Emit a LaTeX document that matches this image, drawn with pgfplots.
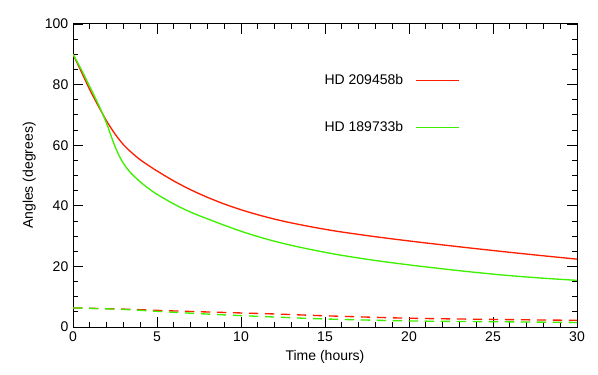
\documentclass[border=0pt]{standalone}
\usepackage{fontspec}
\setmainfont{Liberation Sans}
\usepackage{pgfplots}
\pgfplotsset{compat=1.18}
\definecolor{hdRed}{RGB}{255,30,0}
\definecolor{hdGreen}{RGB}{60,240,0}

\begin{document}
\begin{tikzpicture}
\begin{axis}[
  name=ax,
  scale only axis,
  width=378pt, height=227.25pt,
  xmin=0, xmax=30, ymin=0, ymax=100,
  xtick={0,5,...,30}, ytick={0,20,...,100},
  minor x tick num=4, minor y tick num=3,
  tick align=inside,
  major tick length=7.5pt, minor tick length=3.75pt,
  tick style={black, line width=0.6pt},
  axis line style={line width=0.75pt},
  font=\fontsize{10.5}{12}\selectfont,
  /pgf/number format/assume math mode=true,
  xlabel={Time (hours)}, ylabel={Angles (degrees)},
  legend plot pos=right,
  legend cell align=left,
  legend style={draw=none, fill=none, at={(axis cs:14.8,84.3)}, anchor=north west,
    row sep=22pt, inner sep=0pt},
  legend image code/.code={\path (0pt,0pt);\draw[#1, line width=1.1pt] (6.75pt,0pt) -- (39pt,0pt);},
]
% solid curves
\addplot[hdRed, line width=1pt, smooth] coordinates {
  (0,90)(0.5,84.2)(1,78.3)(1.5,73)(2,68.0)(2.5,63.7)(3,60.2)(3.5,57.5)(4,55.2)
  (4.5,53.3)(5,51.5)(6,48.2)(7,45.3)(8,42.8)(9,40.6)(10,38.7)(11,37.05)(12,35.6)
  (13,34.35)(14,33.25)(15,32.25)(16,31.35)(18,29.8)(20,28.4)(22,27.1)(24,25.85)
  (26,24.65)(28,23.5)(30,22.4)};
\addlegendentry{HD 209458b}
\addplot[hdGreen, line width=1pt, smooth] coordinates {
  (0,90)(0.5,84.9)(1,79.3)(1.5,73.6)(2,67.2)(2.25,63.3)(2.5,59.6)(2.75,56.5)(3,54.0)
  (3.25,52.1)(3.5,50.5)(4,47.9)(4.5,45.7)(5,43.8)(6,40.6)(7,37.9)(8,35.7)(9,33.6)
  (10,31.6)(11,29.85)(12,28.3)(13,26.95)(14,25.75)(15,24.65)(16,23.65)(18,21.95)
  (20,20.5)(22,19.2)(24,18.0)(26,16.95)(28,16.1)(30,15.4)};
\addlegendentry{HD 189733b}
% dashed curves
\addplot[hdRed, line width=1pt, dash pattern=on 7pt off 5pt, smooth, forget plot] coordinates {
  (0,6.3)(3,5.9)(6,5.3)(9,4.8)(12,4.3)(15,3.7)(20,2.9)(25,2.5)(30,2.2)};
\addplot[hdGreen, line width=1pt, dash pattern=on 7pt off 5pt, smooth, forget plot] coordinates {
  (0,6.3)(3,5.8)(6,4.85)(9,4.0)(12,3.3)(15,2.65)(20,2.0)(25,1.75)(30,1.5)};
\end{axis}
\path ([shift={(-54.75pt,-35.25pt)}]ax.south west) rectangle ([shift={(15.75pt,18pt)}]ax.north east);
\end{tikzpicture}
\end{document}
